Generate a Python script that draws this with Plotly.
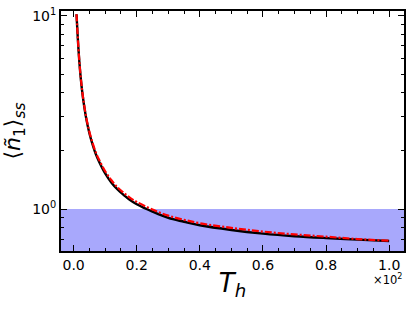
import numpy as np
import plotly.graph_objects as go

# Data
T_h = [0.92, 1.5, 2, 2.5, 3, 4, 5, 6, 7, 8, 10, 12, 14, 16, 18, 20, 25, 30, 35, 40, 50, 60, 70, 80, 90, 100]
n_black = [10.2, 6.86, 5.3, 4.35, 3.73, 2.94, 2.47, 2.16, 1.93, 1.77, 1.53, 1.37, 1.26, 1.18, 1.11, 1.06,
           0.97, 0.90, 0.86, 0.825, 0.78, 0.747, 0.724, 0.708, 0.695, 0.684]
n_red = [10.2, 6.9, 5.34, 4.4, 3.77, 2.98, 2.51, 2.2, 1.97, 1.81, 1.57, 1.41, 1.29, 1.21, 1.14, 1.09,
         0.995, 0.925, 0.88, 0.845, 0.80, 0.765, 0.74, 0.72, 0.70, 0.686]
band_top = 1.0
band_bottom = 0.5
x_tickvals = [0, 20, 40, 60, 80, 100]
x_ticktext = ["0.0", "0.2", "0.4", "0.6", "0.8", "1.0"]
y_tickvals = [1, 10]
y_ticktext = ["10<sup>0</sup>", "10<sup>1</sup>"]

x_range = [-4.0, 104.7]
y_range = [np.log10(0.607), np.log10(10.6)]

fig = go.Figure()
fig.add_trace(go.Scatter(
    x=[x_range[0] - 5, x_range[1] + 5, x_range[1] + 5, x_range[0] - 5, x_range[0] - 5],
    y=[band_bottom, band_bottom, band_top, band_top, band_bottom],
    fill="toself", fillcolor="rgb(168,168,252)", line=dict(width=0),
    mode="lines", hoverinfo="skip", showlegend=False))
fig.add_trace(go.Scatter(x=T_h, y=n_black, mode="lines",
                         line=dict(color="black", width=2.4, shape="spline"), showlegend=False))
fig.add_trace(go.Scatter(x=T_h, y=n_red, mode="lines",
                         line=dict(color="red", width=2.2, dash="7px,2px,2px,2px", shape="spline"),
                         showlegend=False))

font = "DejaVu Sans"
fig.update_layout(
    width=415, height=311,
    margin=dict(l=61, r=11, t=11, b=60, autoexpand=False),
    plot_bgcolor="white", paper_bgcolor="white",
    font=dict(family=font, color="black", size=14),
    showlegend=False,
)
fig.update_xaxes(
    automargin=False,
    range=x_range, tickvals=x_tickvals, ticktext=x_ticktext,
    ticks="inside", ticklen=6, tickwidth=1, tickcolor="black",
    minor=dict(dtick=5, tick0=0, ticks="inside", ticklen=3, tickcolor="black", showgrid=False),
    showline=True, linecolor="black", linewidth=2, mirror="allticks",
    showgrid=False, zeroline=False, tickfont=dict(size=14, family=font),
    title=dict(text="<i>T<sub>h</sub></i>", font=dict(size=26, family=font), standoff=2),
)
fig.update_yaxes(
    automargin=False,
    type="log", range=y_range, tickvals=y_tickvals, ticktext=y_ticktext,
    ticks="inside", ticklen=6, tickwidth=1, tickcolor="black",
    minor=dict(ticks="inside", ticklen=3, tickcolor="black", dtick="D1", showgrid=False),
    showline=True, linecolor="black", linewidth=2, mirror="allticks",
    showgrid=False, zeroline=False, tickfont=dict(size=14, family=font),
    title=dict(text="⟨<i>ñ</i><sub>1</sub>⟩<sub><i>ss</i></sub>", font=dict(size=22, family=font), standoff=6),
)
fig.add_annotation(x=1.0, y=0, xref="paper", yref="paper", xanchor="right", yanchor="top",
                   yshift=-19, xshift=0, text="×10<sup>2</sup>", showarrow=False,
                   font=dict(size=11.5, family=font))
fig.write_html("out.html", config={"displayModeBar": False},
               post_script="document.body.style.margin='0';document.body.style.overflow='hidden';")
